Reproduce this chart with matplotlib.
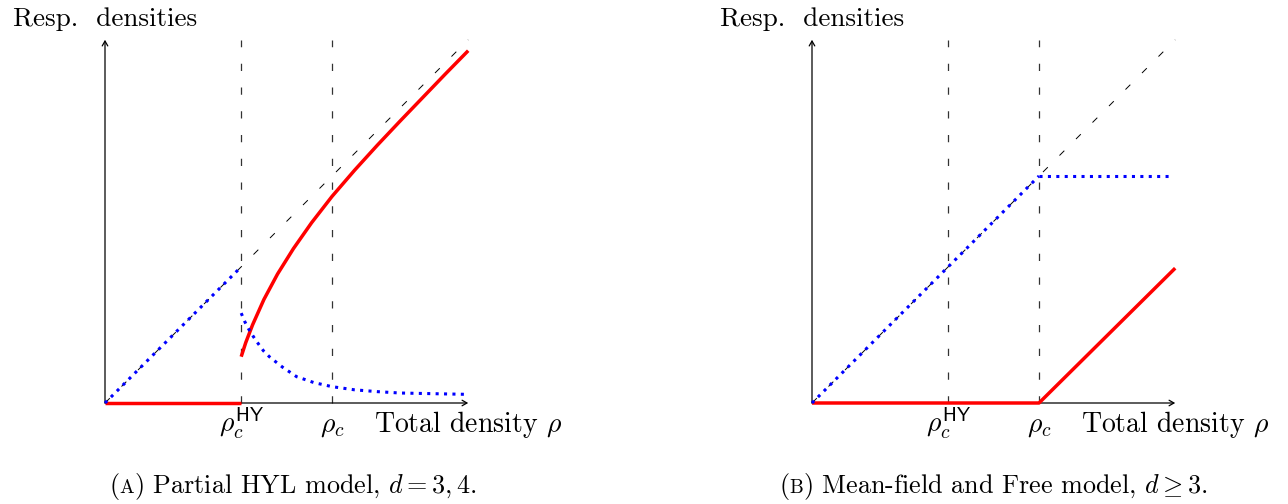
import matplotlib.pyplot as plt
from matplotlib.offsetbox import TextArea, HPacker, AnnotationBbox
import numpy as np

plt.rcParams['mathtext.fontset'] = 'cm'
plt.rcParams['font.family'] = 'cmr10'
plt.rcParams['axes.unicode_minus'] = False

# critical densities and axis length
rho_hy = 3.0
rho_c = 5.0
rho_max = 8.0

# panel A : partial HYL model
a_red_x = [0.0, 3.0]
a_red_y = [0.0, 0.0]
a_red2_x = [3.0, 3.1, 3.25, 3.5, 3.8, 4.15, 4.55, 5.0, 5.5, 6.0, 6.5, 7.0, 7.5, 8.0]
a_red2_y = [1.02, 1.33, 1.72, 2.28, 2.84, 3.40, 3.97, 4.55, 5.13, 5.68, 6.21, 6.73, 7.25, 7.76]
a_blue_x = [0.0, 3.0]
a_blue_y = [0.0, 3.0]
a_blue2_x = [3.0, 3.08, 3.17, 3.27, 3.38, 3.49, 3.62, 3.77, 3.91, 4.22, 4.6, 5.0, 5.5, 6.0, 6.5, 7.0, 7.5, 8.0]
a_blue2_y = [1.98, 1.79, 1.62, 1.46, 1.30, 1.15, 1.02, 0.90, 0.79, 0.58, 0.45, 0.36, 0.29, 0.25, 0.22, 0.21, 0.20, 0.19]

# panel B : mean-field and free model
b_red_x = [0.0, 5.0, 8.0]
b_red_y = [0.0, 0.0, 2.97]
b_blue_x = [0.0, 5.0]
b_blue_y = [0.0, 5.0]
b_blue2_x = [5.0, 7.9]
b_blue2_y = [5.0, 5.0]

fig = plt.figure(figsize=(12.88, 5.04), dpi=100)

px = 45.4  # pixels per unit


def make_axes(left_frac, origin_px):
    ax = fig.add_axes([left_frac, 0, 0.5, 1])
    ax.set_xlim(-(origin_px - 644 * left_frac * 2) / px, (644 * (left_frac * 2 + 1) - origin_px) / px)
    ax.set_ylim(-(504 - 403) / px, 403 / px)
    ax.axis('off')
    return ax


def draw_frame(ax):
    arrow = dict(arrowstyle='->,head_length=0.35,head_width=0.2', lw=0.9, color='black',
                 shrinkA=0, shrinkB=0)
    ax.annotate('', xy=(rho_max, 0), xytext=(0, 0), arrowprops=arrow)
    ax.annotate('', xy=(0, rho_max), xytext=(0, 0), arrowprops=arrow)
    for xv in [rho_hy, rho_c]:
        ax.plot([xv, xv], [0, rho_max], color='0.2', lw=0.9, dashes=(5.8, 13.2))
    ax.plot([0, rho_max], [0, rho_max], color='black', lw=0.7, dashes=(7, 17))
    ax.text(0, 8.3, 'Resp.  densities', fontsize=19.5, ha='center', va='baseline')
    ax.text(rho_max, -0.64, r'Total density $\rho$', fontsize=20, ha='center', va='baseline')
    ax.text(rho_hy, -0.64, r'$\rho_c^{\mathsf{HY}}$', fontsize=20, ha='center', va='baseline')
    ax.text(rho_c, -0.64, r'$\rho_c$', fontsize=20, ha='center', va='baseline')


def caption(ax, letter, rest, x):
    props = dict(fontsize=18.8, family='cmr10')
    small = dict(fontsize=14, family='cmr10')
    box = HPacker(children=[TextArea('(', textprops=props),
                            TextArea(letter, textprops=small),
                            TextArea(')' + rest, textprops=props)],
                  align='baseline', pad=0, sep=0)
    ab = AnnotationBbox(box, (x, -1.85), xycoords='data', frameon=False,
                        box_alignment=(0.5, 0.5))
    ax.add_artist(ab)


red = dict(color='#ff0000', lw=2.5, solid_capstyle='butt', zorder=3)
blue = dict(color='#0000ff', lw=2.2, dashes=(1, 1.75), zorder=4)

ax_a = make_axes(0.0, 105)
draw_frame(ax_a)
ax_a.plot(a_red_x, a_red_y, **red)
ax_a.plot(a_red2_x, a_red2_y, **red)
ax_a.plot(a_blue_x, a_blue_y, **blue)
ax_a.plot(a_blue2_x, a_blue2_y, **blue)
caption(ax_a, 'A', r' Partial HYL model, $d=3,4$.', 4.14)

ax_b = make_axes(0.5, 812)
draw_frame(ax_b)
ax_b.plot(b_red_x, b_red_y, **red)
ax_b.plot(b_blue_x, b_blue_y, **blue)
ax_b.plot(b_blue2_x, b_blue2_y, **blue)
caption(ax_b, 'B', r' Mean-field and Free model, $d\geq3$.', 4.0)

fig.savefig('out.png', dpi=100)
